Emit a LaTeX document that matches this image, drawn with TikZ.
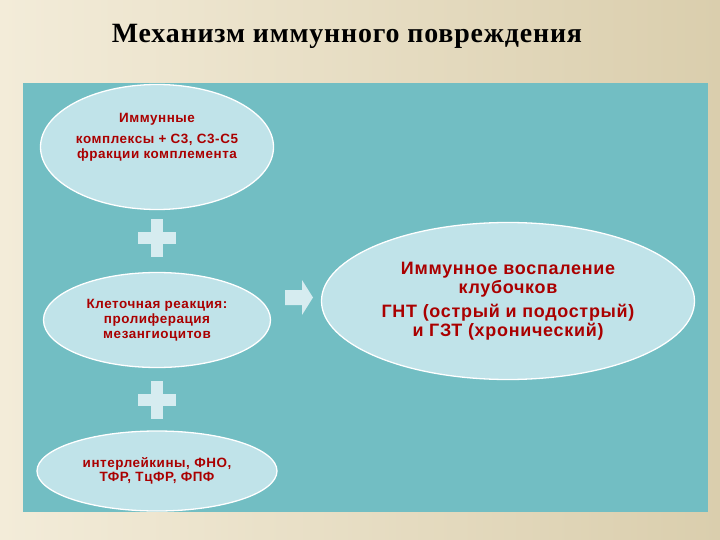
\documentclass[tikz,border=0pt]{standalone}
\usepackage{fontspec}
\setmainfont{Liberation Sans}
\newfontfamily\titlefont[LetterSpace=3]{Liberation Serif}
\newfontfamily\ovalfont[LetterSpace=4]{Liberation Sans}

\definecolor{fonleft}{RGB}{243,236,217}
\definecolor{fonright}{RGB}{218,206,173}
\definecolor{biruza}{RGB}{114,190,195}
\definecolor{ovalfill}{RGB}{192,227,233}
\definecolor{krasn}{RGB}{170,0,0}
\definecolor{znak}{RGB}{214,236,240}

\usetikzlibrary{shapes.geometric}

\tikzset{
  oval/.style={ellipse, draw=white, line width=1.3pt, fill=ovalfill, inner sep=0pt},
  ovaltext/.style={text=krasn, align=center, font=\ovalfont\bfseries\fontsize{13.5}{15}\selectfont},
}

\begin{document}
\begin{tikzpicture}[x=1bp, y=-1bp]
  % Fon
  \useasboundingbox (0,0) rectangle (720,540);
  \shade[left color=fonleft, right color=fonright] (0,0) rectangle (720,540);
  \fill[biruza] (23,83) rectangle (708,512);

  % Zagolovok
  \node (title) at (347,36) {\titlefont\bfseries\fontsize{28}{32}\selectfont Механизм иммунного повреждения};

  % Ovaly sleva
  \node[oval, minimum width=233bp, minimum height=125bp] (kompl) at (157,147) {};
  \node[ovaltext] (kompltext) at (157,137) {Иммунные\\[6pt] комплексы + С3, С3-С5\\ фракции комплемента};

  \node[oval, ovaltext, minimum width=227bp, minimum height=95bp] (kletki) at (157,320)
    {Клеточная реакция:\\ пролиферация\\ мезангиоцитов};

  \node[oval, ovaltext, minimum width=240bp, minimum height=80bp, font=\ovalfont\bfseries\fontsize{13.5}{14}\selectfont] (citok) at (157,471)
    {интерлейкины, ФНО,\\ ТФР, ТцФР, ФПФ};

  % Plyusy
  \foreach \y in {238,400} {
    \fill[znak] (138,\y-6) rectangle (176,\y+6);
    \fill[znak] (151,\y-19) rectangle (163,\y+19);
  }

  % Strelka
  \fill[znak] (285,290) -- (302,290) -- (302,280) -- (313,297.5) -- (302,315) -- (302,305) -- (285,305) -- cycle;

  % Itog
  \node[oval, ovaltext, minimum width=373bp, minimum height=157bp, font=\ovalfont\bfseries\fontsize{18}{19.5}\selectfont] (vospal) at (508,301)
    {Иммунное воспаление\\ клубочков\\[4pt] ГНТ (острый и подострый)\\ и ГЗТ (хронический)};
\end{tikzpicture}
\end{document}
